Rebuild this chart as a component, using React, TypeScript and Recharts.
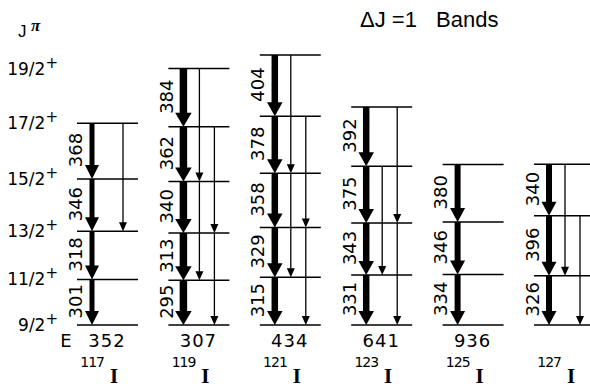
import React from "react";
import { ScatterChart, Scatter, XAxis, YAxis, ReferenceLine } from "recharts";

const isotopes = ["117", "119", "121", "123", "125", "127"];
const bandHeadEnergy = [352, 307, 434, 641, 936, null];
const spins = ["9/2", "11/2", "13/2", "15/2", "17/2", "19/2"];

// dJ=1 (M1) gamma energies in keV, lowest transition first
const gamma117 = [301, 318, 346, 368];
const gamma119 = [295, 313, 340, 362, 384];
const gamma121 = [315, 329, 358, 378, 404];
const gamma123 = [331, 343, 375, 392];
const gamma125 = [334, 346, 380];
const gamma127 = [326, 396, 340];

// dJ=2 crossovers as [from level, to level] (level 0 = 9/2+)
const cross117 = [[4, 2]];
const cross119 = [[5, 3], [3, 1], [4, 2], [2, 0]];
const cross121 = [[5, 3], [3, 1], [4, 2], [2, 0]];
const cross123 = [[3, 1], [4, 2], [2, 0]];
const cross125: number[][] = [];
const cross127 = [[3, 1], [2, 0]];

const bandGammas = [gamma117, gamma119, gamma121, gamma123, gamma125, gamma127];
const bandCross = [cross117, cross119, cross121, cross123, cross125, cross127];

// level energies above the 9/2+ band head
const levelE = bandGammas.map((g) => {
  let e = 0;
  return [0, ...g.map((v) => (e += v))];
});
const spinTicks = [...levelE[0], levelE[1][5]];

const levelPoints = levelE.flatMap((ls, b) => ls.map((e) => ({ x: b, y: e })));

// drawing
const W = 590;
const H = 387;
const UNIT = 91.4; // px between bands
const mainWidth = [5, 7.5, 6.5, 6.5, 6, 6];
const FONT = "DejaVu Sans";

const mainArrow = (w: number, label: number) => (p: any) => {
  const { x1, y1, x2, y2 } = p;
  const hw = w / 2 + 4.5;
  const hl = 14;
  return (
    <g>
      <line x1={x1} y1={y1} x2={x2} y2={y2 - hl + 2} stroke="#000" strokeWidth={w} />
      <polygon points={`${x2 - hw},${y2 - hl} ${x2 + hw},${y2 - hl} ${x2},${y2}`} fill="#000" />
      <text
        transform={`translate(${x1 - 17},${(y1 + y2) / 2 - 1}) rotate(-90)`}
        textAnchor="middle"
        dominantBaseline="central"
        fontFamily={FONT}
        fontSize={18}
        fill="#000"
      >
        {label}
      </text>
    </g>
  );
};

const crossArrow = (p: any) => {
  const { x1, y1, x2, y2 } = p;
  return (
    <g>
      <line x1={x1} y1={y1} x2={x2} y2={y2 - 6} stroke="#000" strokeWidth={1.3} />
      <polygon points={`${x2 - 4},${y2 - 9} ${x2 + 4},${y2 - 9} ${x2},${y2}`} fill="#000" />
    </g>
  );
};

const LevelShape = (p: any) => (
  <line x1={p.cx - 15} x2={p.cx + 46} y1={p.cy} y2={p.cy} stroke="#000" strokeWidth={1.5} />
);

const SpinTick = (p: any) => {
  const i = spinTicks.indexOf(p.payload.value);
  return (
    <text x={p.x} y={p.y} textAnchor="end" dominantBaseline="central" fontFamily={FONT} fontSize={17} fill="#000">
      {spins[i]}
      <tspan dy={-6} fontSize={15}>+</tspan>
    </text>
  );
};

const BandTick = (p: any) => {
  const i = p.payload.value;
  const { x, y } = p;
  return (
    <g fill="#000">
      {i === 0 && (
        <text x={x - 26} y={y + 22} textAnchor="middle" fontFamily={FONT} fontSize={18}>
          E
        </text>
      )}
      {bandHeadEnergy[i] != null && (
        <text x={x + 15} y={y + 22} textAnchor="middle" fontFamily={FONT} fontSize={18} letterSpacing={1}>
          {bandHeadEnergy[i]}
        </text>
      )}
      <text x={x + 12} y={y + 42} textAnchor="end" fontFamily={FONT} fontSize={14} letterSpacing={-1}>
        {isotopes[i]}
      </text>
      <text x={x + 22} y={y + 58} textAnchor="middle" fontFamily="Liberation Serif" fontWeight="bold" fontSize={21}>
        I
      </text>
    </g>
  );
};

export default function App() {
  const left = 62;
  const xMin = (left - 92) / UNIT;
  const xMax = (W - 92) / UNIT;
  return (
    <div style={{ position: "absolute", left: 0, top: 0, width: W, height: H, background: "#fff" }}>
      <svg width={W} height={50} style={{ position: "absolute", left: 0, top: 0 }}>
        <text x={360} y={27} fontFamily="Liberation Sans" fontSize={22} fill="#000">
          ΔJ =1
        </text>
        <text x={436} y={27} fontFamily="Liberation Sans" fontSize={22} fill="#000">
          Bands
        </text>
        <text x={18} y={37} fontFamily="Liberation Sans" fontSize={17} fill="#000">
          J
        </text>
        <text x={31} y={31} fontFamily="Liberation Serif" fontStyle="italic" fontWeight="bold" fontSize={17} fill="#000">
          π
        </text>
      </svg>
      <ScatterChart width={W} height={H} margin={{ top: 45, right: 0, bottom: 12, left: 0 }}>
        <XAxis
          type="number"
          dataKey="x"
          domain={[xMin, xMax]}
          ticks={[0, 1, 2, 3, 4, 5]}
          tick={<BandTick />}
          axisLine={false}
          tickLine={false}
          tickSize={0}
          tickMargin={0}
          height={50}
        />
        <YAxis
          type="number"
          dataKey="y"
          domain={[0, 1850]}
          ticks={spinTicks}
          tick={<SpinTick />}
          axisLine={false}
          tickLine={false}
          tickSize={0}
          tickMargin={4}
          width={left}
        />
        <Scatter data={levelPoints} shape={LevelShape} isAnimationActive={false} />
        {bandGammas.map((g, b) =>
          g.map((e, k) => (
            <ReferenceLine
              key={`m${b}-${k}`}
              segment={[
                { x: b, y: levelE[b][k + 1] },
                { x: b, y: levelE[b][k] },
              ]}
              shape={mainArrow(mainWidth[b], e)}
            />
          ))
        )}
        {bandCross.map((cs, b) =>
          cs.map(([from, to], k) => {
            const xc = b + (from % 2 === 1 ? 16 : 31) / UNIT;
            return (
              <ReferenceLine
                key={`c${b}-${k}`}
                segment={[
                  { x: xc, y: levelE[b][from] },
                  { x: xc, y: levelE[b][to] },
                ]}
                shape={crossArrow}
              />
            );
          })
        )}
      </ScatterChart>
    </div>
  );
}
